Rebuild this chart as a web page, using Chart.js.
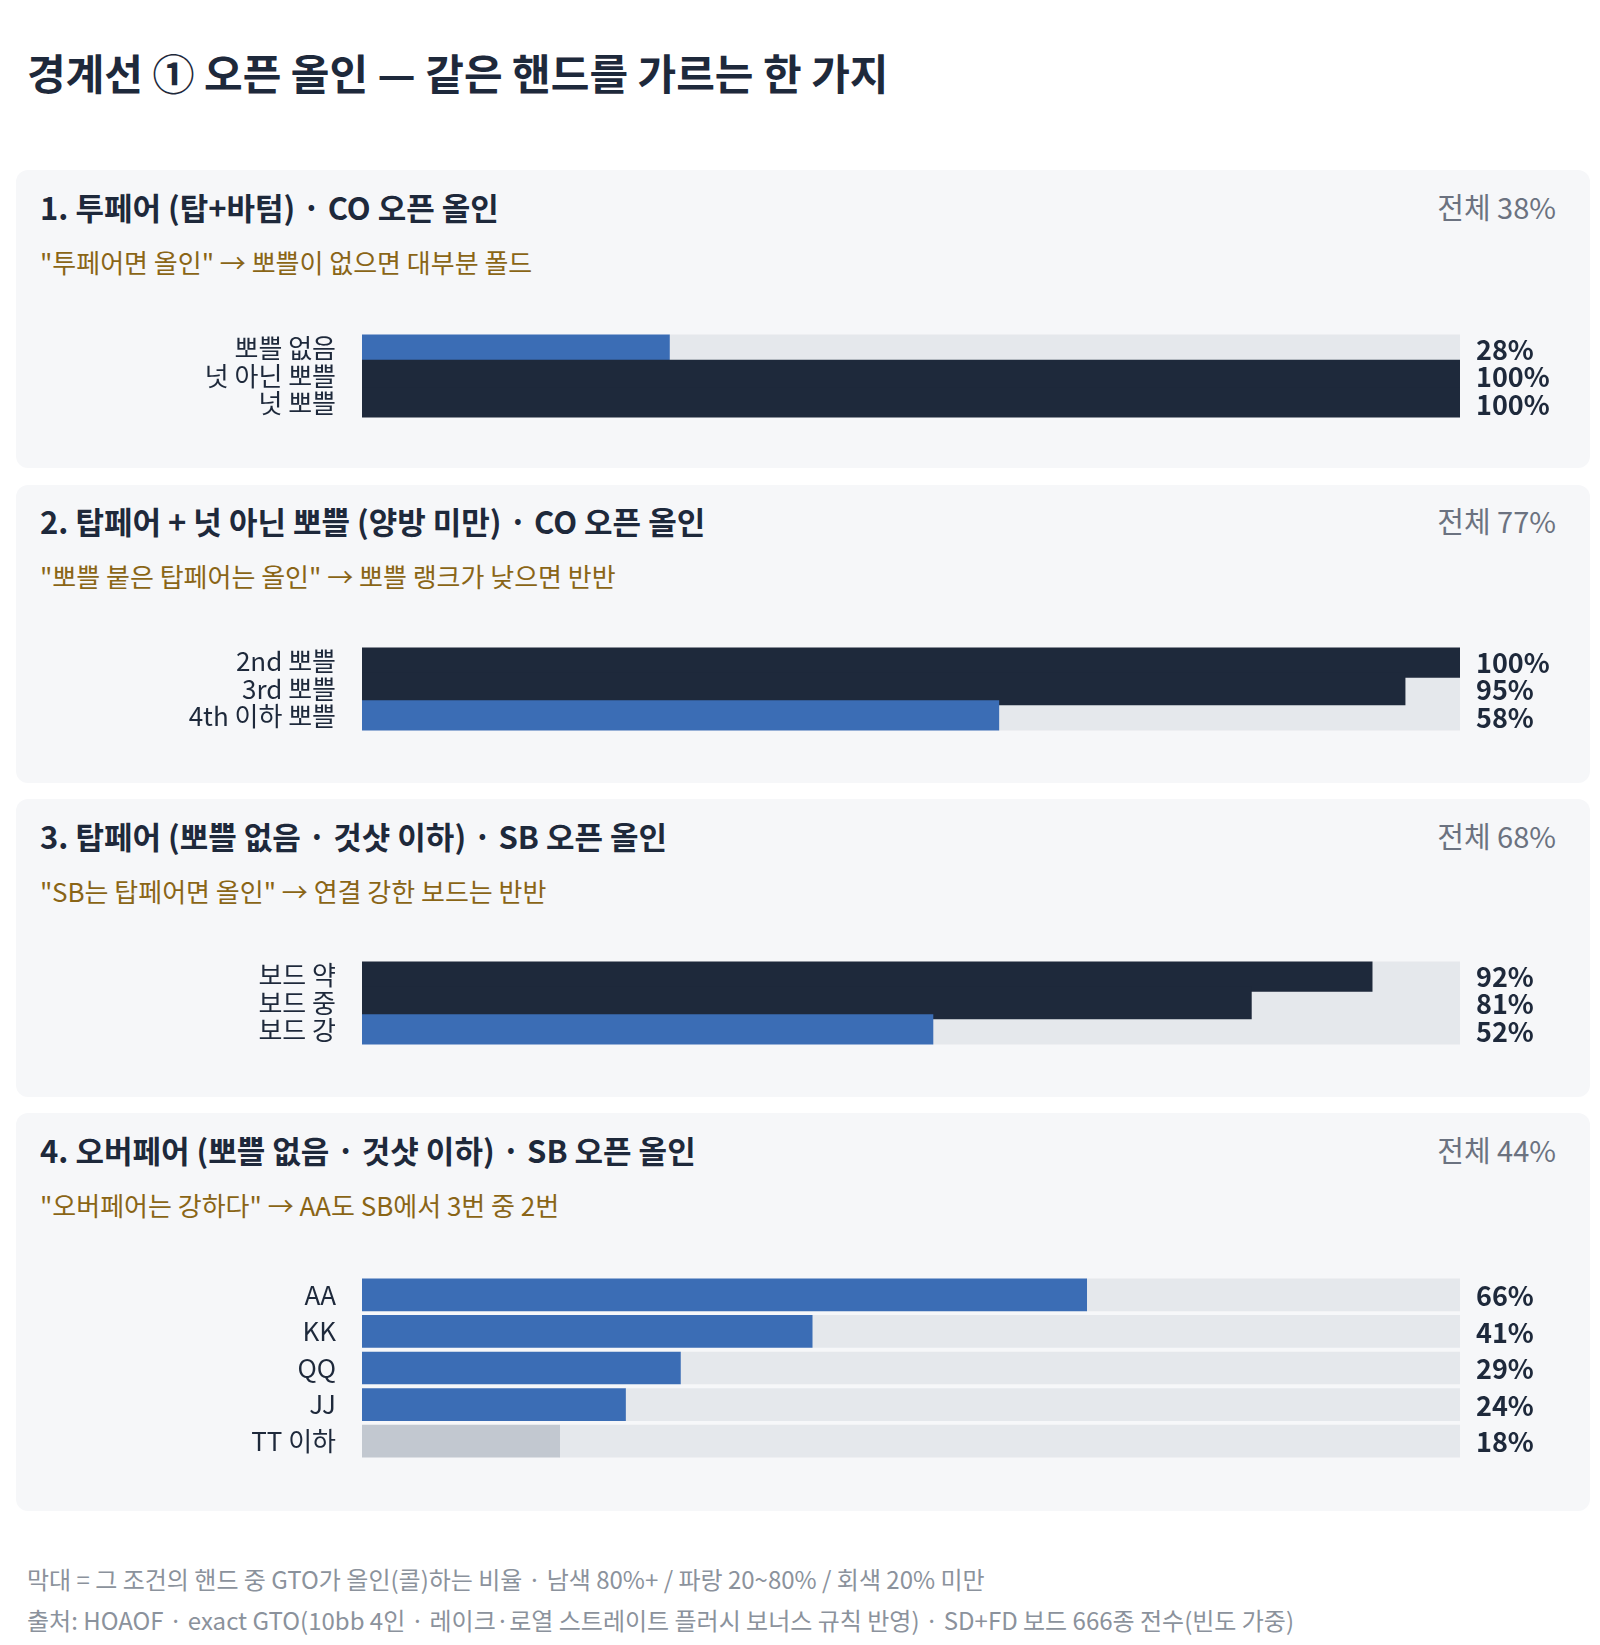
<!DOCTYPE html>
<html><head><meta charset="utf-8">
<script src="https://cdn.jsdelivr.net/npm/chart.js@4"></script>
<style>
body{margin:0;width:1600px;height:1645px;background:#fff;font-family:"Noto Sans CJK KR","Noto Sans",sans-serif;position:relative;overflow:hidden}
.a{position:absolute;white-space:nowrap}
.panel{position:absolute;left:16px;width:1574px;background:#f6f7f9;border-radius:12px}
.h{font-weight:700;font-size:31px;color:#1e293b;transform:translateY(-50%);left:40px}
.t{font-size:29px;color:#6b7280;transform:translateY(-50%);right:44px}
.s{font-size:26px;color:#8a6516;transform:translateY(-50%);left:40px}
canvas{position:absolute;left:0}
</style></head><body>
<div class="a" style="left:27px;top:71px;transform:translateY(-50%);font-size:42px;font-weight:700;color:#1e293b">경계선 ① 오픈 올인 — 같은 핸드를 가르는 한 가지</div>
<div id="root"></div>
<div class="a" style="left:27px;top:1578px;transform:translateY(-50%);font-size:24px;color:#8b929c">막대 = 그 조건의 핸드 중 GTO가 올인(콜)하는 비율 · 남색 80%+ / 파랑 20~80% / 회색 20% 미만</div>
<div class="a" style="left:27px;top:1619px;transform:translateY(-50%);font-size:24px;color:#8b929c">출처: HOAOF · exact GTO(10bb 4인 · 레이크·로열 스트레이트 플러시 보너스 규칙 반영) · SD+FD 보드 666종 전수(빈도 가중)</div>
<script>
const titles=["1. 투페어 (탑+바텀) · CO 오픈 올인","2. 탑페어 + 넛 아닌 뽀쁠 (양방 미만) · CO 오픈 올인","3. 탑페어 (뽀쁠 없음 · 것샷 이하) · SB 오픈 올인","4. 오버페어 (뽀쁠 없음 · 것샷 이하) · SB 오픈 올인"];
const totals=["전체 38%","전체 77%","전체 68%","전체 44%"];
const subs=["\"투페어면 올인\" → 뽀쁠이 없으면 대부분 폴드","\"뽀쁠 붙은 탑페어는 올인\" → 뽀쁠 랭크가 낮으면 반반","\"SB는 탑페어면 올인\" → 연결 강한 보드는 반반","\"오버페어는 강하다\" → AA도 SB에서 3번 중 2번"];
const labels1=["뽀쁠 없음","넛 아닌 뽀쁠","넛 뽀쁠"];
const values1=[28,100,100];
const labels2=["2nd 뽀쁠","3rd 뽀쁠","4th 이하 뽀쁠"];
const values2=[100,95,58];
const labels3=["보드 약","보드 중","보드 강"];
const values3=[92,81,52];
const labels4=["AA","KK","QQ","JJ","TT 이하"];
const values4=[66,41,29,24,18];
const allLabels=[labels1,labels2,labels3,labels4];
const allValues=[values1,values2,values3,values4];
const layout=[{top:170,h:298,head:206,sub:261,c:301},{top:485,h:298,head:520,sub:575,c:614},{top:799,h:298,head:835,sub:890,c:928},{top:1113,h:398,head:1149,sub:1204,c:1243}];
const root=document.getElementById('root');
const col=v=>v>=80?'#1e293b':(v>=20?'#3b6db5':'#c2c8d0');
const valPlugin={id:'vals',afterDatasetsDraw(ch){const c=ch.ctx;const m=ch.getDatasetMeta(0);c.save();c.font='700 27px "Noto Sans CJK KR"';c.fillStyle='#1e293b';c.textBaseline='middle';m.data.forEach((b,i)=>{c.fillText(ch.data.datasets[0].data[i]+'%',1476,b.y+1);});c.restore();}};
layout.forEach((L,p)=>{
  const pn=document.createElement('div');pn.className='panel';pn.style.top=L.top+'px';pn.style.height=L.h+'px';root.appendChild(pn);
  const add=(cls,txt,y)=>{const d=document.createElement('div');d.className='a '+cls;d.textContent=txt;d.style.top=y+'px';root.appendChild(d);};
  add('h',titles[p],L.head);add('t',totals[p],L.head);add('s',subs[p],L.sub);
  const n=allLabels[p].length;
  const cv=document.createElement('canvas');cv.style.top=L.c+'px';cv.style.width='1600px';cv.style.height=(n*50)+'px';cv.width=1600;cv.height=n*50;root.appendChild(cv);
  const vals=allValues[p];
  new Chart(cv,{type:'bar',data:{labels:allLabels[p],datasets:[
    {data:vals,backgroundColor:vals.map(col),barThickness:32,borderWidth:0},
    {data:vals.map(v=>100-v),backgroundColor:'#e5e8ec',barThickness:32,borderWidth:0}]},
    options:{indexAxis:'y',responsive:false,animation:false,devicePixelRatio:1,
      layout:{padding:{left:0,right:140,top:0,bottom:0}},
      plugins:{legend:{display:false},tooltip:{enabled:false}},
      scales:{x:{stacked:true,min:0,max:100,display:false},
        y:{stacked:true,grid:{display:false},border:{display:false},afterFit(s){s.width=362;},
           ticks:{padding:18,color:'#1e293b',font:{size:26,family:'"Noto Sans CJK KR"'}}}}},
    plugins:[valPlugin]});
});
</script>
</body></html>
